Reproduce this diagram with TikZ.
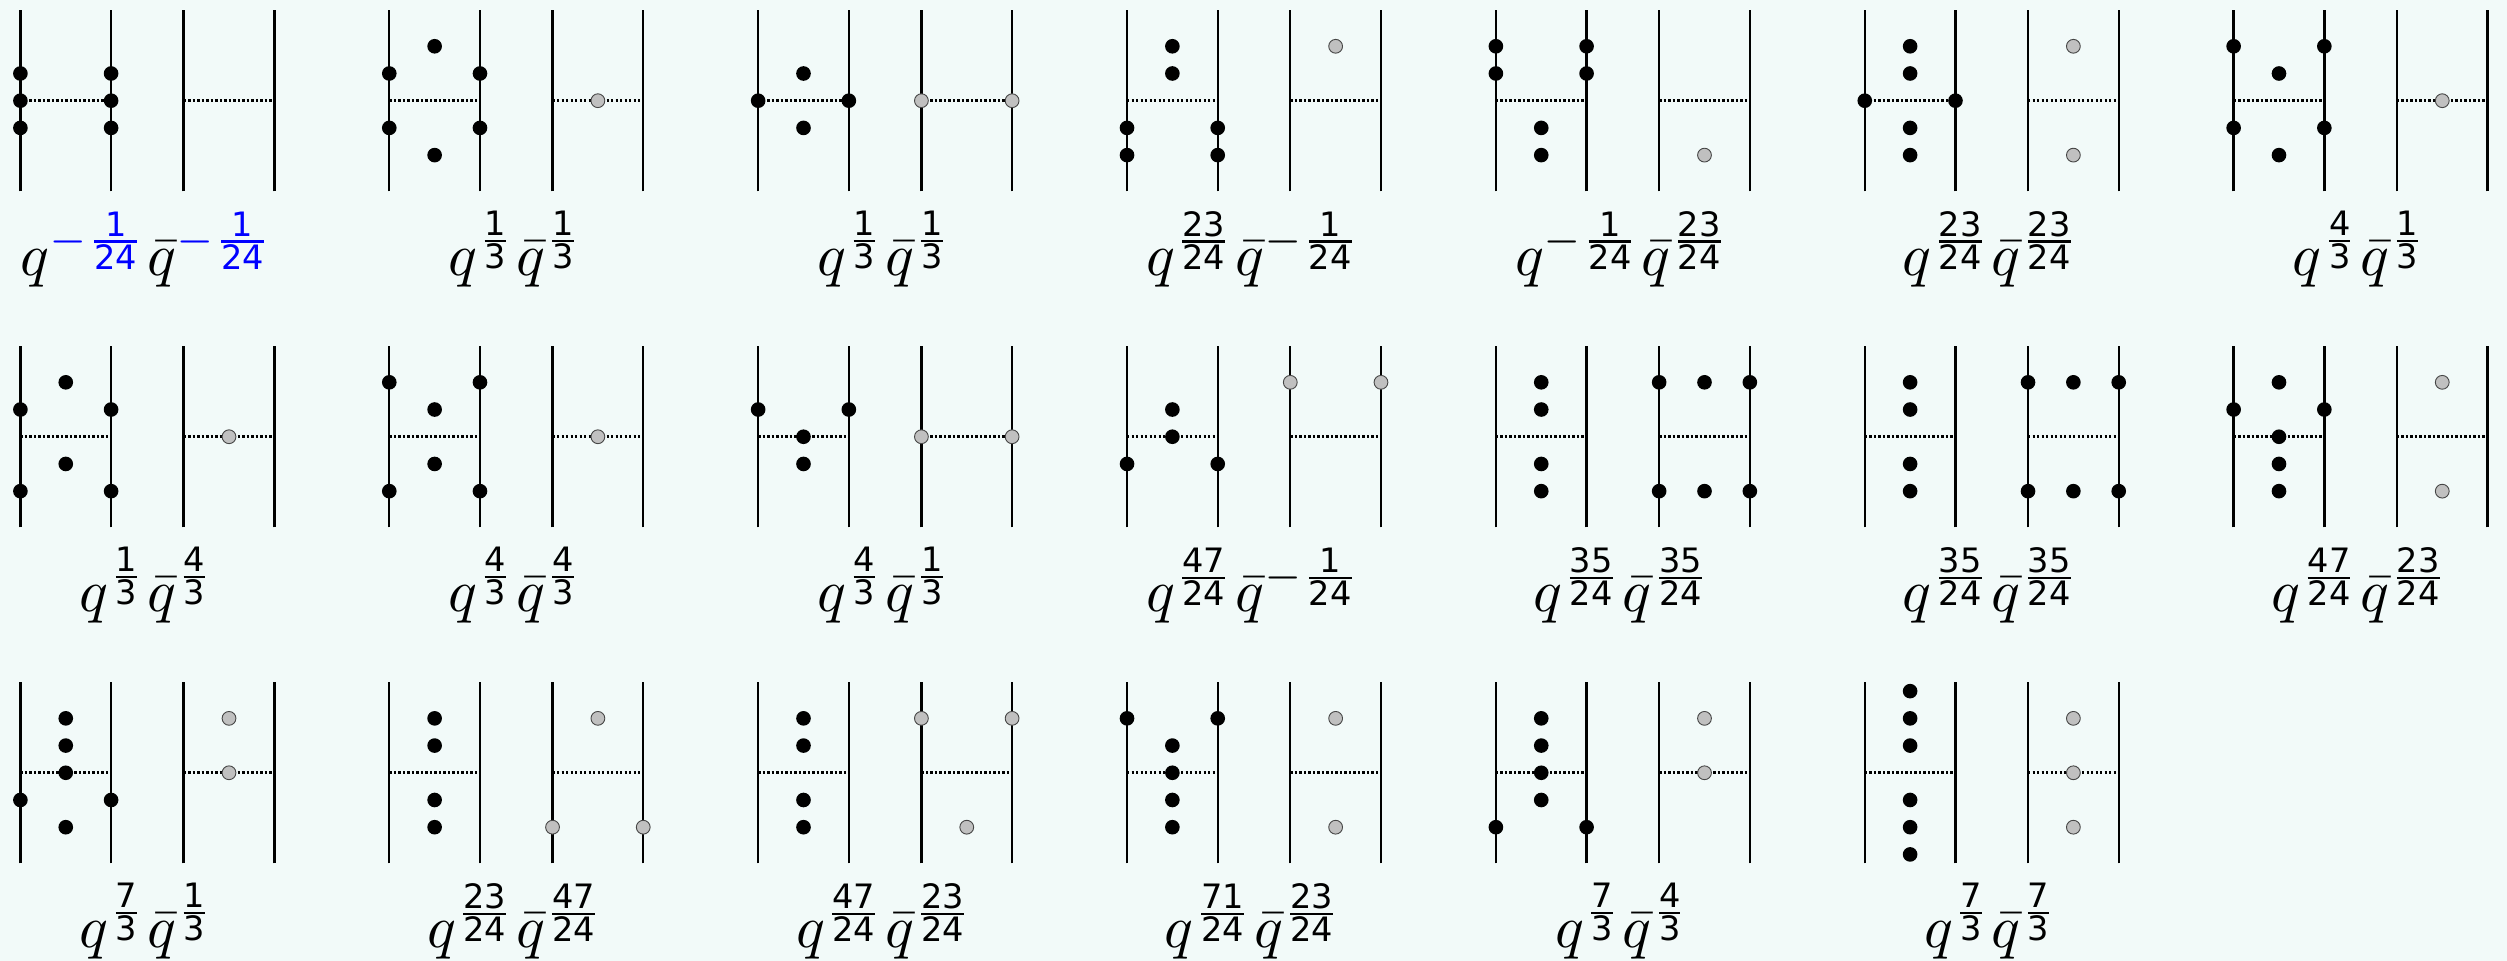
\documentclass[tikz,border=0pt]{standalone}
\usepackage{fontspec}
\setsansfont{DejaVu Sans}
\usepackage{xcolor}
\usepackage{tikz}

\DeclareMathSizes{10}{10}{7}{5.6}
\definecolor{bgmint}{RGB}{242,250,249}
\definecolor{dotgray}{RGB}{192,192,192}
\definecolor{rimgray}{RGB}{70,70,70}

% exponent fraction with sans digits
\newcommand{\ex}[2]{\frac{\mathsf{#1}}{\mathsf{#2}}}

% one panel: column, row, black dots, grey dots, label
\newcommand{\panel}[5]{%
  \begin{scope}[shift={(#1*4.067,-#2*3.705)}]
    \draw[wire] (0,-1) -- (0,1) (1,-1) -- (1,1) (1.8,-1) -- (1.8,1) (2.8,-1) -- (2.8,1);
    \draw[cut] (0,0) -- (1,0) (1.8,0) -- (2.8,0);
    \foreach \x/\y in {#3} {\fill[bdot] (\x,\y) circle[radius=1.22pt];}
    \foreach \x/\y in {#4} {\filldraw[gdot] (\x,\y) circle[radius=1.15pt];}
    \node[lab] (lab-#2-#1) at (1.4,-1.93) {$#5$};
  \end{scope}}

\begin{document}
\begin{tikzpicture}[
  x=15.117pt, y=15.117pt,
  wire/.style={line width=0.4pt},
  cut/.style={line width=0.45pt, dash pattern=on 0.4pt off 0.35pt},
  bdot/.style={black},
  gdot/.style={fill=dotgray, draw=rimgray, line width=0.15pt},
  lab/.style={anchor=base, inner sep=0pt},
]
\path[fill=bgmint, use as bounding box] (-0.225,1.110) rectangle (27.416,-9.485);

% first row
\panel{0}{0}{0/0.3,0/0,0/-0.3,1/0.3,1/0,1/-0.3}{}{q^{\color{blue}-\ex{1}{24}}\bar{q}^{\color{blue}-\ex{1}{24}}}
\panel{1}{0}{0.5/0.6,0/0.3,1/0.3,0/-0.3,1/-0.3,0.5/-0.6}{2.3/0}{q^{\ex{1}{3}}\bar{q}^{\ex{1}{3}}}
\panel{2}{0}{0.5/0.3,0/0,1/0,0.5/-0.3}{1.8/0,2.8/0}{q^{\ex{1}{3}}\bar{q}^{\ex{1}{3}}}
\panel{3}{0}{0.5/0.6,0.5/0.3,0/-0.3,0/-0.6,1/-0.3,1/-0.6}{2.3/0.6}{q^{\ex{23}{24}}\bar{q}^{-\ex{1}{24}}}
\panel{4}{0}{0/0.6,0/0.3,1/0.6,1/0.3,0.5/-0.3,0.5/-0.6}{2.3/-0.6}{q^{-\ex{1}{24}}\bar{q}^{\ex{23}{24}}}
\panel{5}{0}{0.5/0.6,0.5/0.3,0/0,1/0,0.5/-0.3,0.5/-0.6}{2.3/0.6,2.3/-0.6}{q^{\ex{23}{24}}\bar{q}^{\ex{23}{24}}}
\panel{6}{0}{0/0.6,1/0.6,0.5/0.3,0/-0.3,1/-0.3,0.5/-0.6}{2.3/0}{q^{\ex{4}{3}}\bar{q}^{\ex{1}{3}}}

% second row
\panel{0}{1}{0.5/0.6,0/0.3,1/0.3,0.5/-0.3,0/-0.6,1/-0.6}{2.3/0}{q^{\ex{1}{3}}\bar{q}^{\ex{4}{3}}}
\panel{1}{1}{0/0.6,1/0.6,0.5/0.3,0.5/-0.3,0/-0.6,1/-0.6}{2.3/0}{q^{\ex{4}{3}}\bar{q}^{\ex{4}{3}}}
\panel{2}{1}{0/0.3,1/0.3,0.5/0,0.5/-0.3}{1.8/0,2.8/0}{q^{\ex{4}{3}}\bar{q}^{\ex{1}{3}}}
\panel{3}{1}{0.5/0.3,0.5/0,0/-0.3,1/-0.3}{1.8/0.6,2.8/0.6}{q^{\ex{47}{24}}\bar{q}^{-\ex{1}{24}}}
\panel{4}{1}{0.5/0.6,0.5/0.3,0.5/-0.3,0.5/-0.6,1.8/0.6,2.3/0.6,2.8/0.6,1.8/-0.6,2.3/-0.6,2.8/-0.6}{}{q^{\ex{35}{24}}\bar{q}^{\ex{35}{24}}}
\panel{5}{1}{0.5/0.6,0.5/0.3,0.5/-0.3,0.5/-0.6,1.8/0.6,2.3/0.6,2.8/0.6,1.8/-0.6,2.3/-0.6,2.8/-0.6}{}{q^{\ex{35}{24}}\bar{q}^{\ex{35}{24}}}
\panel{6}{1}{0.5/0.6,0/0.3,1/0.3,0.5/0,0.5/-0.3,0.5/-0.6}{2.3/0.6,2.3/-0.6}{q^{\ex{47}{24}}\bar{q}^{\ex{23}{24}}}

% third row
\panel{0}{2}{0.5/0.6,0.5/0.3,0.5/0,0/-0.3,1/-0.3,0.5/-0.6}{2.3/0.6,2.3/0}{q^{\ex{7}{3}}\bar{q}^{\ex{1}{3}}}
\panel{1}{2}{0.5/0.6,0.5/0.3,0.5/-0.3,0.5/-0.6}{2.3/0.6,1.8/-0.6,2.8/-0.6}{q^{\ex{23}{24}}\bar{q}^{\ex{47}{24}}}
\panel{2}{2}{0.5/0.6,0.5/0.3,0.5/-0.3,0.5/-0.6}{1.8/0.6,2.8/0.6,2.3/-0.6}{q^{\ex{47}{24}}\bar{q}^{\ex{23}{24}}}
\panel{3}{2}{0/0.6,1/0.6,0.5/0.3,0.5/0,0.5/-0.3,0.5/-0.6}{2.3/0.6,2.3/-0.6}{q^{\ex{71}{24}}\bar{q}^{\ex{23}{24}}}
\panel{4}{2}{0.5/0.6,0.5/0.3,0.5/0,0.5/-0.3,0/-0.6,1/-0.6}{2.3/0.6,2.3/0}{q^{\ex{7}{3}}\bar{q}^{\ex{4}{3}}}
\panel{5}{2}{0.5/0.9,0.5/0.6,0.5/0.3,0.5/-0.3,0.5/-0.6,0.5/-0.9}{2.3/0.6,2.3/0,2.3/-0.6}{q^{\ex{7}{3}}\bar{q}^{\ex{7}{3}}}
\end{tikzpicture}
\end{document}
